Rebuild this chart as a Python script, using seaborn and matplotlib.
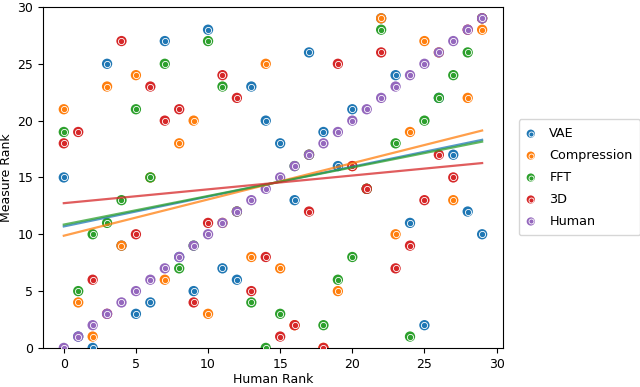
import numpy as np
import pandas as pd
import matplotlib
matplotlib.use("Agg")
import matplotlib.pyplot as plt
import seaborn as sns

# Data (rank under each measure vs. human rank)
human_rank = list(range(30))
vae = [15, 1, 0, 25, 9, 3, 4, 27, 8, 5, 28, 7, 6, 23, 20, 18, 13, 26, 19, 16,
       21, 14, 29, 24, 11, 2, 22, 17, 12, 10]
compression = [21, 4, 1, 23, 9, 24, 15, 6, 18, 20, 3, 11, 12, 8, 25, 7, 2, 17, 0, 5,
               16, 14, 29, 10, 19, 27, 26, 13, 22, 28]
fft = [19, 5, 10, 11, 13, 21, 15, 25, 7, 9, 27, 23, 12, 4, 0, 3, 16, 17, 2, 6,
       8, 14, 28, 18, 1, 20, 22, 24, 26, 29]
threed = [18, 19, 6, 3, 27, 10, 23, 20, 21, 4, 11, 24, 22, 5, 8, 1, 2, 12, 0, 25,
          16, 14, 26, 7, 9, 13, 17, 15, 28, 29]
human = list(range(30))

series_names = ["VAE", "Compression", "FFT", "3D", "Human"]
series_values = [vae, compression, fft, threed, human]
fit_line = [True, True, True, True, False]
colors = sns.color_palette("tab10", 5)

plt.rcParams["font.size"] = 9

rows = []
for name, vals in zip(series_names, series_values):
    for x, y in zip(human_rank, vals):
        rows.append({"Human Rank": x, "Measure Rank": y, "Measure": name})
df = pd.DataFrame(rows)

fig, ax = plt.subplots(figsize=(6.4, 3.87), dpi=100)
fig.subplots_adjust(left=0.067, right=0.786, top=0.982, bottom=0.101)

handles = []
for name, col in zip(series_names, colors):
    sub = df[df["Measure"] == name]
    # outer disc + inner disc with a white ring
    outer = ax.scatter(sub["Human Rank"], sub["Measure Rank"], s=55, color=col,
                       edgecolors="none", zorder=3)
    inner = ax.scatter(sub["Human Rank"], sub["Measure Rank"], s=20, color=col,
                       edgecolors="white", linewidths=0.6, zorder=3)
    handles.append((outer, inner))

for name, col, do_fit in zip(series_names, colors, fit_line):
    if not do_fit:
        continue
    sub = df[df["Measure"] == name]
    sns.regplot(data=sub, x="Human Rank", y="Measure Rank", scatter=False,
                ci=None, color=col, ax=ax,
                line_kws={"linewidth": 1.6, "alpha": 0.75, "zorder": 4})

ax.set_ylim(0, 30)
ax.set_xlim(-1.45, 30.45)
ax.set_xticks([0, 5, 10, 15, 20, 25, 30])
ax.set_yticks([0, 5, 10, 15, 20, 25, 30])
ax.set_xlabel("Human Rank", labelpad=2)
ax.set_ylabel("Measure Rank", labelpad=3)

leg = ax.legend(handles, series_names, loc="center left",
                bbox_to_anchor=(1.02, 0.5), fontsize=9.2, markerscale=0.8,
                handlelength=0.7, handletextpad=1.1, borderpad=0.6,
                labelspacing=0.7)

fig.savefig("out.png", dpi=100)
